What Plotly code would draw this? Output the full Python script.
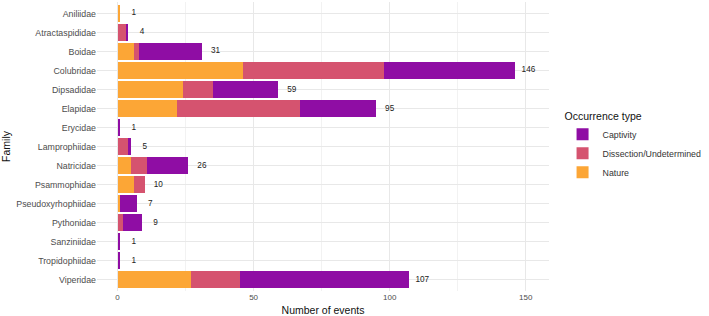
import plotly.graph_objects as go

families = ["Aniliidae", "Atractaspididae", "Boidae", "Colubridae", "Dipsadidae",
            "Elapidae", "Erycidae", "Lamprophiidae", "Natricidae", "Psammophidae",
            "Pseudoxyrhophiidae", "Pythonidae", "Sanziniidae", "Tropidophiidae", "Viperidae"]
nature =     [1, 0, 6, 46, 24, 22, 0, 0, 5, 6, 1, 0, 0, 0, 27]
dissection = [0, 3, 2, 52, 11, 45, 0, 4, 6, 4, 0, 2, 0, 0, 18]
captivity =  [0, 1, 23, 48, 24, 28, 1, 1, 15, 0, 6, 7, 1, 1, 62]
totals = [a + b + c for a, b, c in zip(nature, dissection, captivity)]
label_offset = 5

colors = {"Captivity": "#8F0DA4", "Dissection/Undetermined": "#D5536F", "Nature": "#FCA636"}
font = "Liberation Sans, Arial, sans-serif"

fig = go.Figure()
for name, vals in [("Nature", nature), ("Dissection/Undetermined", dissection), ("Captivity", captivity)]:
    fig.add_trace(go.Bar(y=families, x=vals, name=name, orientation="h",
                         marker=dict(color=colors[name], line=dict(width=0)),
                         hoverinfo="x+y+name"))

fig.add_trace(go.Scatter(y=families, x=[t + label_offset for t in totals],
                         text=[str(t) for t in totals], mode="text",
                         textfont=dict(size=8.2, color="#222222", family=font),
                         showlegend=False, hoverinfo="skip"))

fig.update_layout(
    width=709, height=316,
    margin=dict(l=97, r=135, t=2, b=25),
    barmode="stack", bargap=0.1,
    plot_bgcolor="white", paper_bgcolor="white",
    font=dict(family=font, color="#333333"),
    legend=dict(title=dict(text="Occurrence type", font=dict(size=10.5, color="#111111")),
                traceorder="reversed", x=1.03, xanchor="left", y=0.64, yanchor="top",
                font=dict(size=8.8, color="#333333"), itemsizing="constant",
                tracegroupgap=0),
    xaxis=dict(range=[-7.55, 158.55], tickvals=[0, 50, 100, 150],
               showgrid=True, gridcolor="#E8E8E8", gridwidth=1, zeroline=False,
               minor=dict(tickvals=[25, 75, 125], showgrid=True, gridcolor="#F2F2F2", gridwidth=0.6),
               tickfont=dict(size=8, color="#4D4D4D"), ticks="", ticklen=0,
               title=dict(text="Number of events", font=dict(size=10.5, color="#111111"), standoff=5),
               showline=False, fixedrange=True),
    yaxis=dict(categoryorder="array", categoryarray=families, range=[14.6, -0.6],
               showgrid=True, gridcolor="#E8E8E8", gridwidth=1, zeroline=False,
               tickfont=dict(size=8.8, color="#4D4D4D"), ticks="", ticklen=0,
               title=dict(text="Family", font=dict(size=10.5, color="#111111"), standoff=6),
               showline=False),
)

fig.write_html("out.html")
